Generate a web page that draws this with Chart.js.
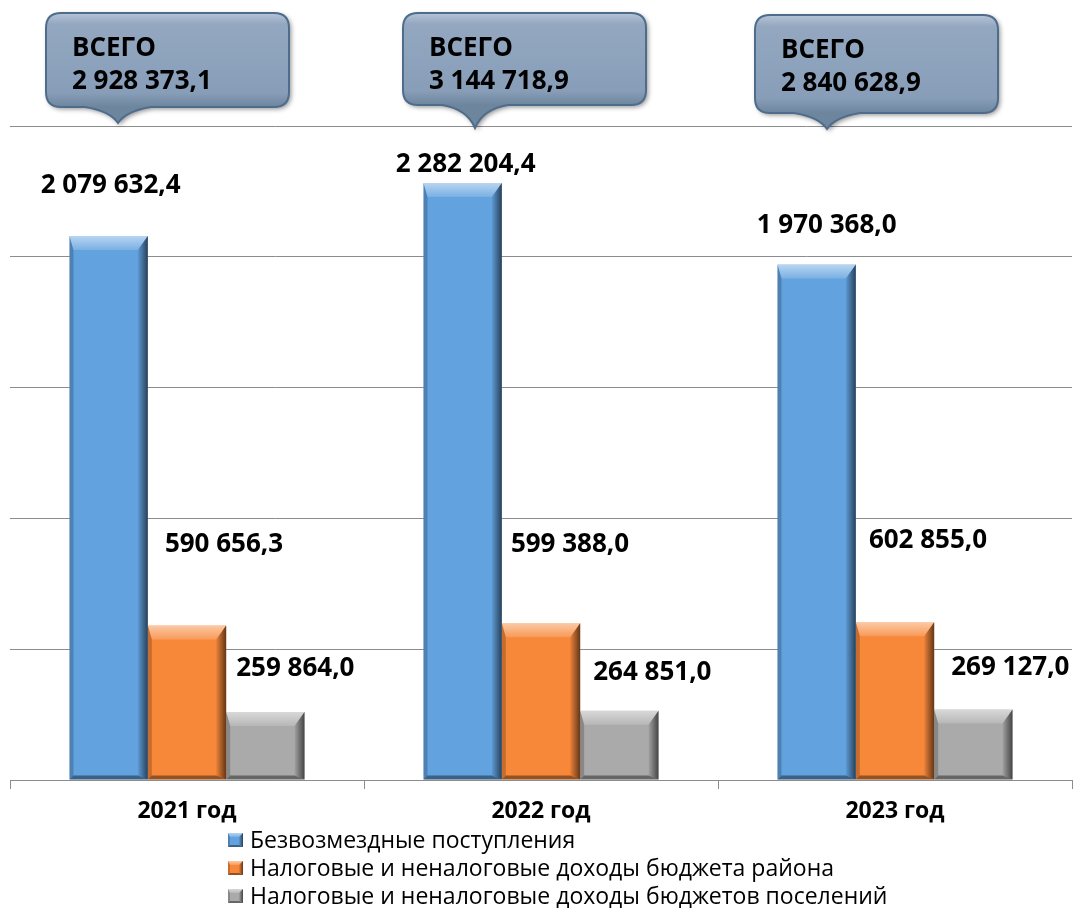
<!DOCTYPE html>
<html lang="ru">
<head>
  <meta charset="UTF-8">
  <title>Доходы бюджета</title>
  <style>
    body { margin: 0; background: #fff; }
    #wrap { width: 1074px; height: 908px; position: relative; }
  </style>
  <script src="https://cdn.jsdelivr.net/npm/chart.js"></script>
</head>
<body>
  <div id="wrap"><canvas id="myChart"></canvas></div>

  <script>
    // Data
    const years = ['2021 год', '2022 год', '2023 год'];
    const seriesNames = [
      'Безвозмездные поступления',
      'Налоговые и неналоговые доходы бюджета района',
      'Налоговые и неналоговые доходы бюджетов поселений'
    ];
    const grants = [2079632.4, 2282204.4, 1970368.0];
    const districtIncome = [590656.3, 599388.0, 602855.0];
    const settlementIncome = [259864.0, 264851.0, 269127.0];
    const totals = [2928373.1, 3144718.9, 2840628.9];
    const yMax = 2500000;
    const yStep = 500000;

    // Styling / layout
    const colors = ['#62a2df', '#f7883a', '#aaaaaa'];
    const boldFont = 'bold 26px "Open Sans", sans-serif';
    // label centre offset from the bar top centre, per series and year
    const labelShift = [
      [[2, -52], [3, -20], [10, -41]],
      [[37, -82], [29, -80], [33, -83]],
      [[30, -45], [33, -40], [37, -44]]
    ];
    // callout boxes, positioned relative to the category centre
    const callouts = [
      { dx: -141, top: 13, h: 94, tipY: 123 },
      { dx: -138, top: 13, h: 92, tipY: 128 },
      { dx: -140, top: 15, h: 98, tipY: 129 }
    ];
    const calloutW = 243;

    function fmt(v) {
      const p = v.toFixed(1).split('.');
      return p[0].replace(/\B(?=(\d{3})+(?!\d))/g, ' ') + ',' + p[1];
    }

    function poly(ctx, pts, fill) {
      ctx.beginPath();
      ctx.moveTo(pts[0][0], pts[0][1]);
      for (let i = 1; i < pts.length; i++) ctx.lineTo(pts[i][0], pts[i][1]);
      ctx.closePath();
      ctx.fillStyle = fill;
      ctx.fill();
    }

    // fake the bevelled look of the office chart
    function bevel(ctx, L, R, T, B, d, s, b) {
      let g = ctx.createLinearGradient(0, T, 0, T + d);
      g.addColorStop(0, 'rgba(255,255,255,0.55)');
      g.addColorStop(1, 'rgba(255,255,255,0.15)');
      poly(ctx, [[L, T], [R, T], [R - s, T + d], [L + b, T + d]], g);
      g = ctx.createLinearGradient(R - s, 0, R, 0);
      g.addColorStop(0, 'rgba(0,0,0,0.05)');
      g.addColorStop(1, 'rgba(0,0,0,0.6)');
      poly(ctx, [[R, T], [R, B], [R - s, B - b], [R - s, T + d]], g);
      poly(ctx, [[L, T], [L + b, T + d], [L + b, B - b], [L, B]], 'rgba(0,0,0,0.2)');
      poly(ctx, [[L, B], [R, B], [R - s, B - b], [L + b, B - b]], 'rgba(0,0,0,0.4)');
    }

    const bevelPlugin = {
      id: 'bevel',
      afterDatasetsDraw(chart) {
        const ctx = chart.ctx;
        ctx.save();
        chart.data.datasets.forEach((ds, i) => {
          chart.getDatasetMeta(i).data.forEach(bar => {
            const L = bar.x - bar.width / 2, R = bar.x + bar.width / 2;
            bevel(ctx, L, R, bar.y, bar.base, 14, 10, 4);
          });
        });
        ctx.restore();
      }
    };

    function calloutPath(ctx, L, T, W, H, tipX, tipY) {
      const r = 15, R = L + W, B = T + H;
      ctx.beginPath();
      ctx.moveTo(L + r, T);
      ctx.lineTo(R - r, T);
      ctx.quadraticCurveTo(R, T, R, T + r);
      ctx.lineTo(R, B - r);
      ctx.quadraticCurveTo(R, B, R - r, B);
      ctx.lineTo(tipX + 33, B);
      ctx.quadraticCurveTo(tipX + 8, B + 4, tipX, tipY);
      ctx.quadraticCurveTo(tipX - 8, B + 4, tipX - 33, B);
      ctx.lineTo(L + r, B);
      ctx.quadraticCurveTo(L, B, L, B - r);
      ctx.lineTo(L, T + r);
      ctx.quadraticCurveTo(L, T, L + r, T);
      ctx.closePath();
    }

    const labelsPlugin = {
      id: 'labels',
      afterDraw(chart) {
        const ctx = chart.ctx;
        const xs = chart.scales.x;
        ctx.save();

        // value labels
        ctx.font = boldFont;
        ctx.fillStyle = '#000';
        ctx.textAlign = 'center';
        ctx.textBaseline = 'alphabetic';
        chart.data.datasets.forEach((ds, i) => {
          chart.getDatasetMeta(i).data.forEach((bar, j) => {
            const sh = labelShift[i][j];
            ctx.fillText(fmt(ds.data[j]), bar.x + sh[0], bar.y + sh[1] + 9);
          });
        });

        // "ВСЕГО" callouts
        totals.forEach((t, j) => {
          const c = callouts[j];
          const cx = xs.getPixelForValue(j);
          const L = cx + c.dx, T = c.top;
          const tipX = L + 72;
          ctx.save();
          ctx.shadowColor = 'rgba(0,0,0,0.45)';
          ctx.shadowBlur = 5;
          ctx.shadowOffsetX = 2;
          ctx.shadowOffsetY = 2;
          calloutPath(ctx, L, T, calloutW, c.h, tipX, c.tipY);
          const g = ctx.createLinearGradient(0, T, 0, T + c.h);
          g.addColorStop(0, '#b6c4d6');
          g.addColorStop(0.12, '#93a7c0');
          g.addColorStop(0.85, '#889eb8');
          g.addColorStop(1, '#6e859e');
          ctx.fillStyle = g;
          ctx.fill();
          ctx.restore();
          calloutPath(ctx, L, T, calloutW, c.h, tipX, c.tipY);
          ctx.lineWidth = 2;
          ctx.strokeStyle = '#4e6d8d';
          ctx.stroke();

          ctx.fillStyle = '#000';
          ctx.font = boldFont;
          ctx.textAlign = 'left';
          ctx.fillText('ВСЕГО', L + 26, T + 34 + 9);
          ctx.fillText(fmt(t), L + 26, T + 67 + 9);
        });

        // legend as a left-aligned column
        ctx.font = '23px "Open Sans", sans-serif';
        ctx.textAlign = 'left';
        chart.data.datasets.forEach((ds, i) => {
          const y = 833 + i * 28;
          ctx.fillStyle = ds.backgroundColor;
          ctx.fillRect(228, y, 15, 14);
          bevel(ctx, 228, 243, y, y + 14, 4, 4, 2);
          ctx.fillStyle = '#000';
          ctx.fillText(ds.label, 250, y + 15);
        });

        ctx.restore();
      }
    };

    const ctx = document.getElementById('myChart').getContext('2d');
    const series = [grants, districtIncome, settlementIncome];

    const myChart = new Chart(ctx, {
      type: 'bar',
      data: {
        labels: years,
        datasets: series.map((d, i) => ({
          label: seriesNames[i],
          data: d,
          backgroundColor: colors[i],
          borderWidth: 0,
          categoryPercentage: 0.664,
          barPercentage: 1.0
        }))
      },
      options: {
        responsive: true,
        maintainAspectRatio: false,
        animation: false,
        layout: { padding: { top: 126, left: 10, right: 2, bottom: 0 } },
        plugins: {
          legend: { display: false },
          tooltip: { enabled: false }
        },
        scales: {
          x: {
            grid: {
              display: true,
              drawOnChartArea: false,
              drawTicks: true,
              tickLength: 9,
              color: '#8c8c8c'
            },
            border: { display: true, color: '#8c8c8c' },
            ticks: {
              color: '#000',
              padding: 9,
              font: { family: '"Open Sans", sans-serif', size: 23, weight: 'bold' }
            },
            afterFit(scale) { scale.height = 128; }
          },
          y: {
            min: 0,
            max: yMax,
            ticks: { display: false, stepSize: yStep },
            grid: { color: '#8c8c8c', drawTicks: false },
            border: { display: false }
          }
        }
      },
      plugins: [bevelPlugin, labelsPlugin]
    });
  </script>
</body>
</html>
